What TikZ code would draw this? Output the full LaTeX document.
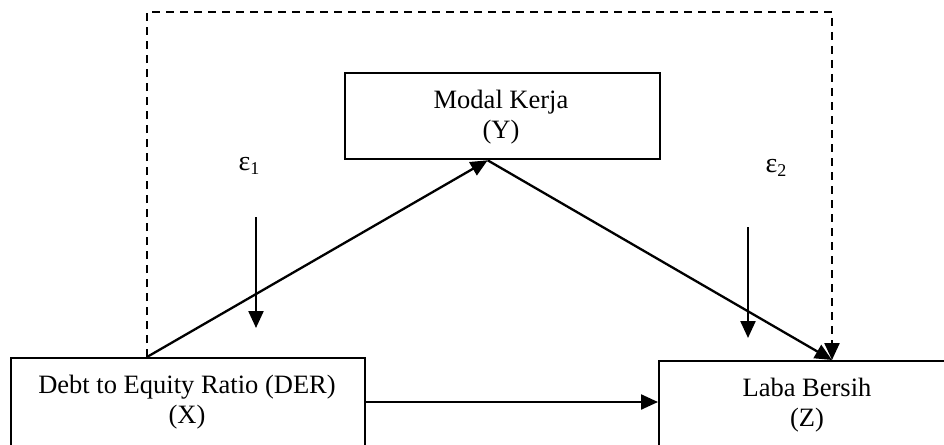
\documentclass[tikz,border=0pt]{standalone}
\usepackage{fontspec}
\setmainfont{Liberation Serif}
\usetikzlibrary{arrows.meta,calc}
\begin{document}
\begin{tikzpicture}[x=1pt,y=-1pt,
  box/.style={draw,line width=2.3pt,rectangle,inner sep=0pt,anchor=north west},
  lbl/.style={align=center,font=\fontsize{26.5}{30}\selectfont,inner sep=0pt},
  eps/.style={font=\fontsize{28}{30}\selectfont,inner sep=0pt},
  conn/.style={line width=2.3pt,-{Triangle[length=17pt,width=15pt]}},
  dashconn/.style={conn,dash pattern=on 8pt off 6pt}]
\clip (0,0) rectangle (944,444);

% boxes (the lower two run past the frame)
\node[box,minimum width=315pt,minimum height=86pt] (Y) at (344,72) {};
\node[box,minimum width=354pt,minimum height=140pt] (X) at (10,357) {};
\node[box,minimum width=320pt,minimum height=140pt] (Z) at (658,360) {};

% box texts, placed by the baseline of their last line
\node[lbl,anchor=base] (ylab) at (501,138) {Modal Kerja\\(Y)};
\node[lbl,anchor=base] (xlab) at (187,423) {Debt to Equity Ratio (DER)\\(X)};
\node[lbl,anchor=base] (zlab) at (807,426) {Laba Bersih\\(Z)};

% error terms
\node[eps,anchor=base] (e1) at (249,170) {ε\raisebox{-4pt}{\fontsize{18}{18}\selectfont 1}};
\node[eps,anchor=base] (e2) at (776,172) {ε\raisebox{-4pt}{\fontsize{18}{18}\selectfont 2}};
\coordinate (e1s) at (256,217);
\coordinate (e1t) at (256,328);
\coordinate (e2s) at (748,227);
\coordinate (e2t) at (748,338);

% path anchors on the box edges
\coordinate (xout) at ([xshift=137pt]X.north west);
\coordinate (yin) at ([xshift=-15pt]Y.south);
\coordinate (zin) at ([xshift=174pt]Z.north west);
\coordinate (xr) at ([yshift=-45pt]X.north east);

% connectors
\draw[conn] (xout) -- (yin);
\draw[conn] (yin) -- (zin);
\draw[conn] (xr) -- (xr -| Z.west);
\draw[dashconn] (xout) -- (xout |- 0,12) -| (zin);
\draw[conn] (e1s) -- (e1t);
\draw[conn] (e2s) -- (e2t);
\end{tikzpicture}
\end{document}
